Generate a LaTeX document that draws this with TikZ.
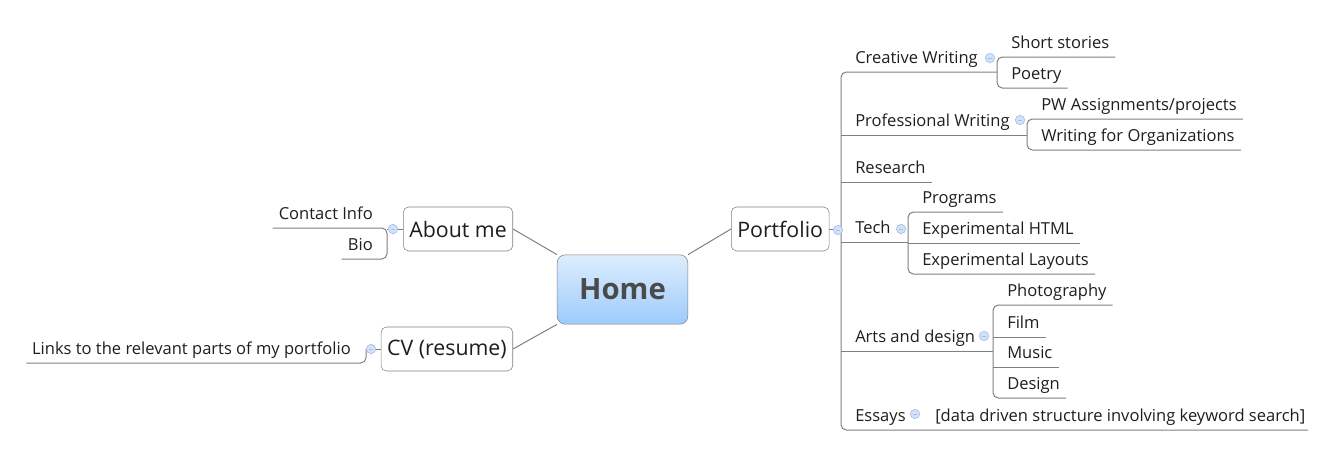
\documentclass[tikz,border=0pt]{standalone}
\usepackage{fontspec}
\setmainfont{Open Sans}
\usetikzlibrary{positioning}
\definecolor{mapline}{HTML}{808080}
\definecolor{maptext}{HTML}{1E1E1E}
\definecolor{hometext}{HTML}{4A4A4A}
\definecolor{hometop}{HTML}{DDEDFD}
\definecolor{homebot}{HTML}{9DCBFC}
\definecolor{foldfill}{HTML}{D3E2F8}
\definecolor{folddraw}{HTML}{A3BFE8}

\begin{document}
\begin{tikzpicture}[x=0.75pt, y=-0.75pt,
        topic/.style={rectangle, rounded corners=4pt, draw=mapline, fill=white, minimum height=33pt, inner xsep=4.5pt, text=maptext, font=\fontsize{16}{19}\selectfont},
        leaf/.style={anchor=south west, inner xsep=0pt, inner ysep=6.5pt, text depth=0pt, text=maptext, font=\fontsize{12.4}{15}\selectfont},
        leafl/.style={leaf, anchor=south east},
        branch/.style={draw=mapline, line width=0.75pt},
        fold/.style={circle, draw=folddraw, fill=foldfill, line width=0.5pt, inner sep=0pt, minimum size=7pt,
          path picture={\draw[folddraw, line width=0.6pt] ([xshift=-1.6pt]path picture bounding box.center) -- ([xshift=1.6pt]path picture bounding box.center);}}]
      \useasboundingbox (0,0) rectangle (1326,461);

      % Central topic and main topics
      \node[rectangle, rounded corners=6pt, draw=mapline, top color=hometop, bottom color=homebot, minimum width=98pt, minimum height=52pt, text=hometext, font=\fontsize{22}{26}\selectfont\bfseries] (home) at (622.5,289.5) {Home};
      \node[topic, anchor=west] (portfolio) at (731,229) {Portfolio};
      \node[topic, anchor=east] (about) at (513,229) {About me};
      \node[topic, anchor=east] (cv) at (513,349) {CV (resume)};

      \draw[branch] (home.north east) -- (portfolio.west);
      \draw[branch] (home.north west) -- (about.east);
      \draw[branch] (home.south west) -- (cv.east);

      % Spines
      \coordinate (pspine) at (841,229);
      \coordinate (cwspine) at (997,72);
      \coordinate (pwspine) at (1027,135);
      \coordinate (techspine) at (908,242);
      \coordinate (artspine) at (993,351);
      \coordinate (aboutspine) at (387,229);
      \coordinate (cvspine) at (366,349);

      % Portfolio branch
      \node[leaf] (cw) at (855,72) {Creative Writing};
      \node[leaf] (pw) at (855,135) {Professional Writing};
      \node[leaf] (research) at (855,182) {Research};
      \node[leaf] (tech) at (855,242) {Tech};
      \node[leaf] (arts) at (855,351) {Arts and design};
      \node[leaf] (essays) at (855,430) {Essays};
      \node[leaf] (datasearch) at (935,430) {[data driven structure involving keyword search]};

      \node[leaf] (stories) at (1011,57) {Short stories};
      \node[leaf] (poetry) at (1011,88) {Poetry};
      \node[leaf] (pwassign) at (1041,119) {PW Assignments/projects};
      \node[leaf] (pworgs) at (1041,150) {Writing for Organizations};
      \node[leaf] (programs) at (922,212) {Programs};
      \node[leaf] (exphtml) at (922,243) {Experimental HTML};
      \node[leaf] (explayout) at (922,274) {Experimental Layouts};
      \node[leaf] (photo) at (1007,305) {Photography};
      \node[leaf] (film) at (1007,337) {Film};
      \node[leaf] (music) at (1007,367) {Music};
      \node[leaf] (design) at (1007,398) {Design};

      \draw[branch] (portfolio.east) -- (pspine);
      \draw[branch, rounded corners=4pt] (cwspine) -- (pspine |- cw.south) -- (pspine |- datasearch.south) -- ([xshift=2pt]datasearch.south east);
      \draw[branch] (pspine |- pw.south) -- (pwspine);
      \draw[branch] (pspine |- research.south) -- ([xshift=4.5pt]research.south east);
      \draw[branch] (pspine |- tech.south) -- (techspine);
      \draw[branch] (pspine |- arts.south) -- (artspine);

      \draw[branch, rounded corners=4pt] ([xshift=4.5pt]stories.south east) -- (cwspine |- stories.south) -- (cwspine |- poetry.south) -- ([xshift=4.5pt]poetry.south east);
      \draw[branch, rounded corners=4pt] ([xshift=4.5pt]pwassign.south east) -- (pwspine |- pwassign.south) -- (pwspine |- pworgs.south) -- ([xshift=4.5pt]pworgs.south east);
      \draw[branch, rounded corners=4pt] ([xshift=4.5pt]programs.south east) -- (techspine |- programs.south) -- (techspine |- explayout.south) -- ([xshift=4.5pt]explayout.south east);
      \draw[branch] (techspine |- exphtml.south) -- ([xshift=4.5pt]exphtml.south east);
      \draw[branch, rounded corners=4pt] ([xshift=4.5pt]photo.south east) -- (artspine |- photo.south) -- (artspine |- design.south) -- ([xshift=4.5pt]design.south east);
      \draw[branch] (artspine |- film.south) -- ([xshift=4.5pt]film.south east);
      \draw[branch] (artspine |- music.south) -- ([xshift=4.5pt]music.south east);

      % About me branch
      \node[leafl] (contact) at (373,228) {Contact Info};
      \node[leafl] (bio) at (373,259) {Bio};
      \draw[branch] (about.west) -- (aboutspine);
      \draw[branch, rounded corners=4pt] ([xshift=-4.5pt]contact.south west) -- (aboutspine |- contact.south) -- (aboutspine |- bio.south) -- ([xshift=-4.5pt]bio.south west);

      % CV branch
      \node[leafl] (links) at (351,363) {Links to the relevant parts of my portfolio};
      \draw[branch] (cv.west) -- (cvspine);
      \draw[branch, rounded corners=4pt] ([xshift=-4pt]links.south west) -- (cvspine |- links.south) -- (cvspine);

      % Collapse markers
      \node[fold] (fportfolio) at (838,230) {};
      \node[fold] (fabout) at (393,229) {};
      \node[fold] (fcv) at (371,349) {};
      \node[fold] (fcw) at (990,58) {};
      \node[fold] (fpw) at (1020,120) {};
      \node[fold] (ftech) at (901,229) {};
      \node[fold] (farts) at (984,336) {};
      \node[fold] (fessays) at (915,414) {};
    \end{tikzpicture}
\end{document}
